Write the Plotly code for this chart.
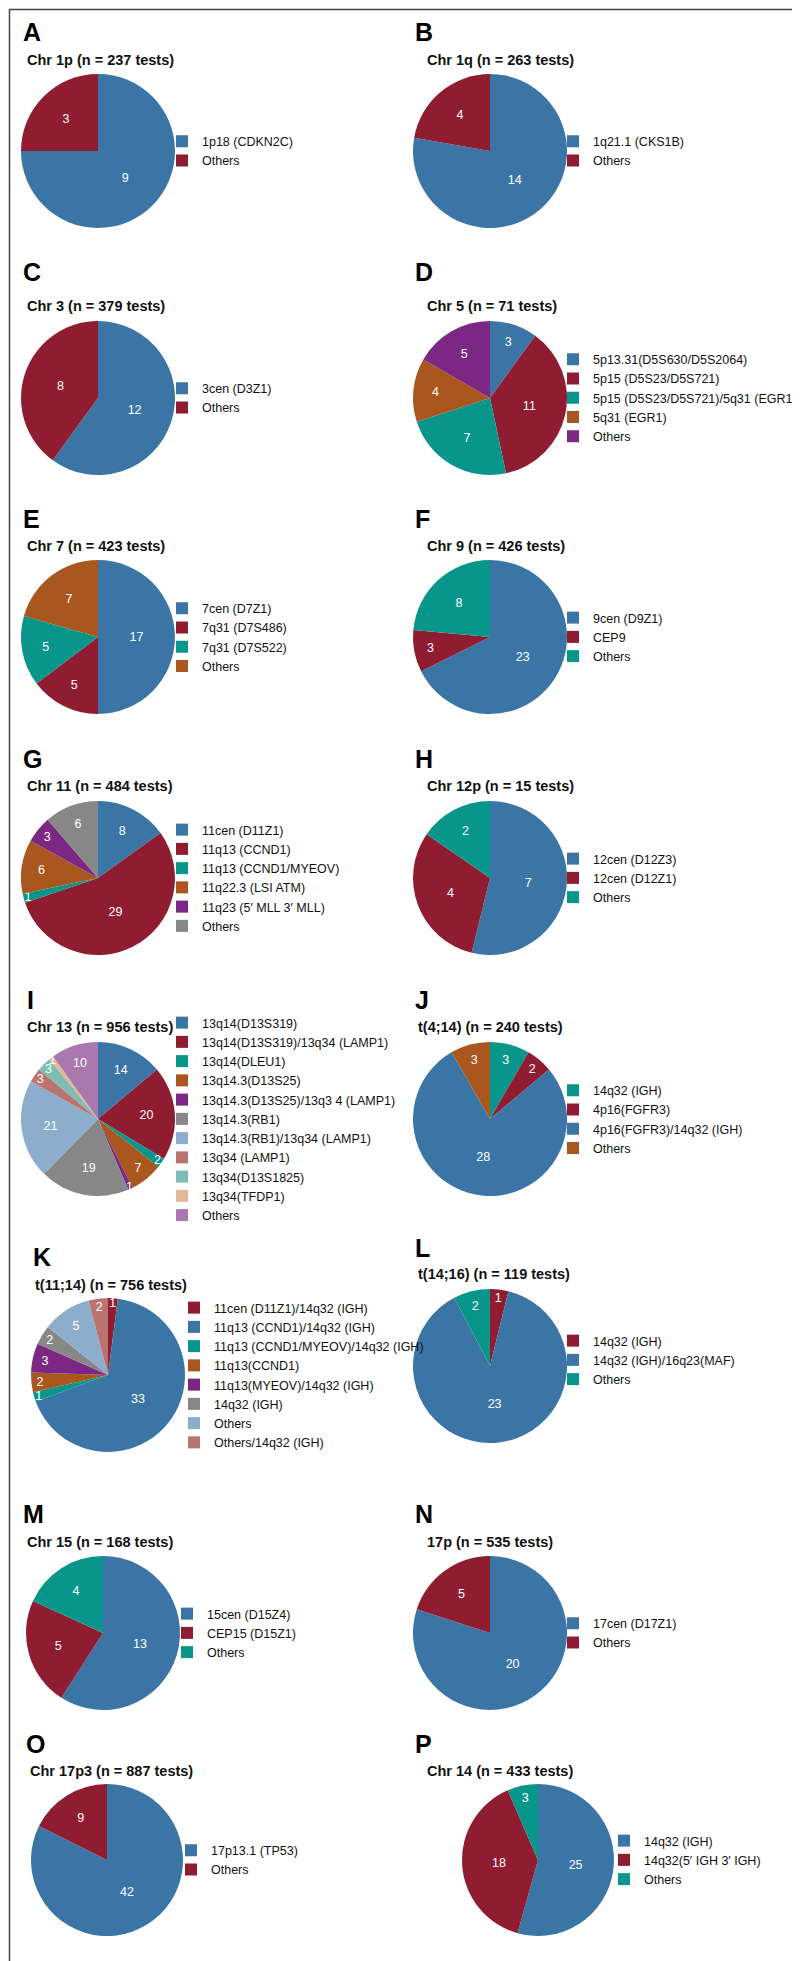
import plotly.graph_objects as go

W, H = 800, 1961

# ---------------- data ----------------
a_labels = ["1p18 (CDKN2C)", "Others"]
a_values = [9, 3]
b_labels = ["1q21.1 (CKS1B)", "Others"]
b_values = [14, 4]
c_labels = ["3cen (D3Z1)", "Others"]
c_values = [12, 8]
d_labels = ["5p13.31(D5S630/D5S2064)", "5p15 (D5S23/D5S721)", "5p15 (D5S23/D5S721)/5q31 (EGR1)", "5q31 (EGR1)", "Others"]
d_values = [3, 11, 7, 4, 5]
e_labels = ["7cen (D7Z1)", "7q31 (D7S486)", "7q31 (D7S522)", "Others"]
e_values = [17, 5, 5, 7]
f_labels = ["9cen (D9Z1)", "CEP9", "Others"]
f_values = [23, 3, 8]
g_labels = ["11cen (D11Z1)", "11q13 (CCND1)", "11q13 (CCND1/MYEOV)", "11q22.3 (LSI ATM)", "11q23 (5\u2032 MLL 3\u2032 MLL)", "Others"]
g_values = [8, 29, 1, 6, 3, 6]
h_labels = ["12cen (D12Z3)", "12cen (D12Z1)", "Others"]
h_values = [7, 4, 2]
i_labels = ["13q14(D13S319)", "13q14(D13S319)/13q34 (LAMP1)", "13q14(DLEU1)", "13q14.3(D13S25)",
            "13q14.3(D13S25)/13q3 4 (LAMP1)", "13q14.3(RB1)", "13q14.3(RB1)/13q34 (LAMP1)", "13q34 (LAMP1)",
            "13q34(D13S1825)", "13q34(TFDP1)", "Others"]
i_values = [14, 20, 2, 7, 1, 19, 21, 3, 3, 1, 10]
j_labels = ["14q32 (IGH)", "4p16(FGFR3)", "4p16(FGFR3)/14q32 (IGH)", "Others"]
j_values = [3, 2, 28, 3]
k_labels = ["11cen (D11Z1)/14q32 (IGH)", "11q13 (CCND1)/14q32 (IGH)", "11q13 (CCND1/MYEOV)/14q32 (IGH)",
            "11q13(CCND1)", "11q13(MYEOV)/14q32 (IGH)", "14q32 (IGH)", "Others", "Others/14q32 (IGH)"]
k_values = [1, 33, 1, 2, 3, 2, 5, 2]
l_labels = ["14q32 (IGH)", "14q32 (IGH)/16q23(MAF)", "Others"]
l_values = [1, 23, 2]
m_labels = ["15cen (D15Z4)", "CEP15 (D15Z1)", "Others"]
m_values = [13, 5, 4]
n_labels = ["17cen (D17Z1)", "Others"]
n_values = [20, 5]
o_labels = ["17p13.1 (TP53)", "Others"]
o_values = [42, 9]
p_labels = ["14q32 (IGH)", "14q32(5\u2032 IGH 3\u2032 IGH)", "Others"]
p_values = [25, 18, 3]

titles = ["Chr 1p (n = 237 tests)", "Chr 1q (n = 263 tests)", "Chr 3 (n = 379 tests)", "Chr 5 (n = 71 tests)",
          "Chr 7 (n = 423 tests)", "Chr 9 (n = 426 tests)", "Chr 11 (n = 484 tests)", "Chr 12p (n = 15 tests)",
          "Chr 13 (n = 956 tests)", "t(4;14) (n = 240 tests)", "t(11;14) (n = 756 tests)", "t(14;16) (n = 119 tests)",
          "Chr 15 (n = 168 tests)", "17p (n = 535 tests)", "Chr 17p3 (n = 887 tests)", "Chr 14 (n = 433 tests)"]
letters = list("ABCDEFGHIJKLMNOP")

# ---------------- styles ----------------
BLUE, RED, TEAL, ORANGE, PURPLE = "#3b75a6", "#8f1c31", "#08968b", "#a9571f", "#7c2783"
GRAY, LBLUE, ROSE, LTEAL, TAN, PINK = "#878787", "#8dadcd", "#b97470", "#7dbdb4", "#e0b999", "#a878ae"

panels = [
    (a_labels, a_values, [BLUE, RED]),
    (b_labels, b_values, [BLUE, RED]),
    (c_labels, c_values, [BLUE, RED]),
    (d_labels, d_values, [BLUE, RED, TEAL, ORANGE, PURPLE]),
    (e_labels, e_values, [BLUE, RED, TEAL, ORANGE]),
    (f_labels, f_values, [BLUE, RED, TEAL]),
    (g_labels, g_values, [BLUE, RED, TEAL, ORANGE, PURPLE, GRAY]),
    (h_labels, h_values, [BLUE, RED, TEAL]),
    (i_labels, i_values, [BLUE, RED, TEAL, ORANGE, PURPLE, GRAY, LBLUE, ROSE, LTEAL, TAN, PINK]),
    (j_labels, j_values, [TEAL, RED, BLUE, ORANGE]),
    (k_labels, k_values, [RED, BLUE, TEAL, ORANGE, PURPLE, GRAY, LBLUE, ROSE]),
    (l_labels, l_values, [RED, BLUE, TEAL]),
    (m_labels, m_values, [BLUE, RED, TEAL]),
    (n_labels, n_values, [BLUE, RED]),
    (o_labels, o_values, [BLUE, RED]),
    (p_labels, p_values, [BLUE, RED, TEAL]),
]

# layout geometry in pixels (letter y, title y, pie centre y)
rows = [(24, 52, 143), (264, 298, 390), (511, 538, 629), (751, 778, 870),
        (992, 1019, 1111), (1249, 1277, 1367), (1506, 1534, 1625), (1736, 1763, 1852)]
geom = []
for ri, (ly, ty, cy) in enumerate(rows):
    geom.append(dict(lx=13, ly=ly, tx=17, ty=ty, cx=90, cy=cy, r=77, gx=154, gy=cy))
    geom.append(dict(lx=405, ly=ly, tx=417, ty=ty, cx=482, cy=cy, r=77, gx=545, gy=cy))
geom[8].update(lx=17)                                   # I
geom[9].update(tx=408)                                  # J
geom[10].update(lx=23, tx=25, cx=100, gx=166)           # K
geom[11].update(ly=1240, tx=408, ty=1266, cy=1358, gy=1352)   # L
geom[12].update(cx=95, gx=159)                          # M
geom[14].update(lx=16, tx=20, cx=99, gx=163, r=76)      # O
geom[15].update(cx=530, gx=596, r=76)                   # P

FONT = "Liberation Sans, Arial, sans-serif"
ZW = "\u200b"  # zero-width marker so that identical labels in different panels stay distinct

fig = go.Figure()
annotations = []
layout_legends = {}
for idx, ((labels, values, colors), g) in enumerate(zip(panels, geom)):
    leg = "legend" if idx == 0 else f"legend{idx + 1}"
    uniq = [lab + ZW * idx for lab in labels]
    fig.add_trace(go.Pie(
        labels=uniq, values=values, sort=False, direction="clockwise", rotation=0,
        marker=dict(colors=colors, line=dict(width=0)),
        textinfo="value", textposition="inside", insidetextorientation="horizontal",
        textfont=dict(color="white", size=12.5, family=FONT),
        domain=dict(x=[(g["cx"] - g["r"]) / W, (g["cx"] + g["r"]) / W],
                    y=[1 - (g["cy"] + g["r"]) / H, 1 - (g["cy"] - g["r"]) / H]),
        legend=leg, hoverinfo="label+value", name=letters[idx],
    ))
    layout_legends[leg] = dict(x=g["gx"] / W, y=1 - g["gy"] / H, xanchor="left", yanchor="middle",
                               font=dict(family=FONT, size=12.5, color="#111"),
                               bgcolor="rgba(0,0,0,0)", borderwidth=0, itemclick=False,
                               itemdoubleclick=False)
    annotations.append(dict(x=g["lx"] / W, y=1 - g["ly"] / H, xref="paper", yref="paper",
                            xanchor="left", yanchor="middle", showarrow=False, text=letters[idx],
                            font=dict(family=FONT, size=25, color="#000", weight="bold")))
    annotations.append(dict(x=g["tx"] / W, y=1 - g["ty"] / H, xref="paper", yref="paper",
                            xanchor="left", yanchor="middle", showarrow=False, text=titles[idx],
                            font=dict(family=FONT, size=14.5, color="#111", weight="bold")))

fig.update_layout(
    width=W, height=H, margin=dict(l=0, r=0, t=0, b=0),
    paper_bgcolor="white", plot_bgcolor="white", showlegend=True,
    annotations=annotations,
    uniformtext=dict(minsize=12.5, mode="show"),
    shapes=[dict(type="rect", xref="paper", yref="paper", x0=1.5 / W, x1=1 - 2.5 / W,
                 y0=2.5 / H, y1=1 - 1.5 / H, line=dict(color="#444", width=1.5))],
    **layout_legends,
)

fig.write_html("out.html")
